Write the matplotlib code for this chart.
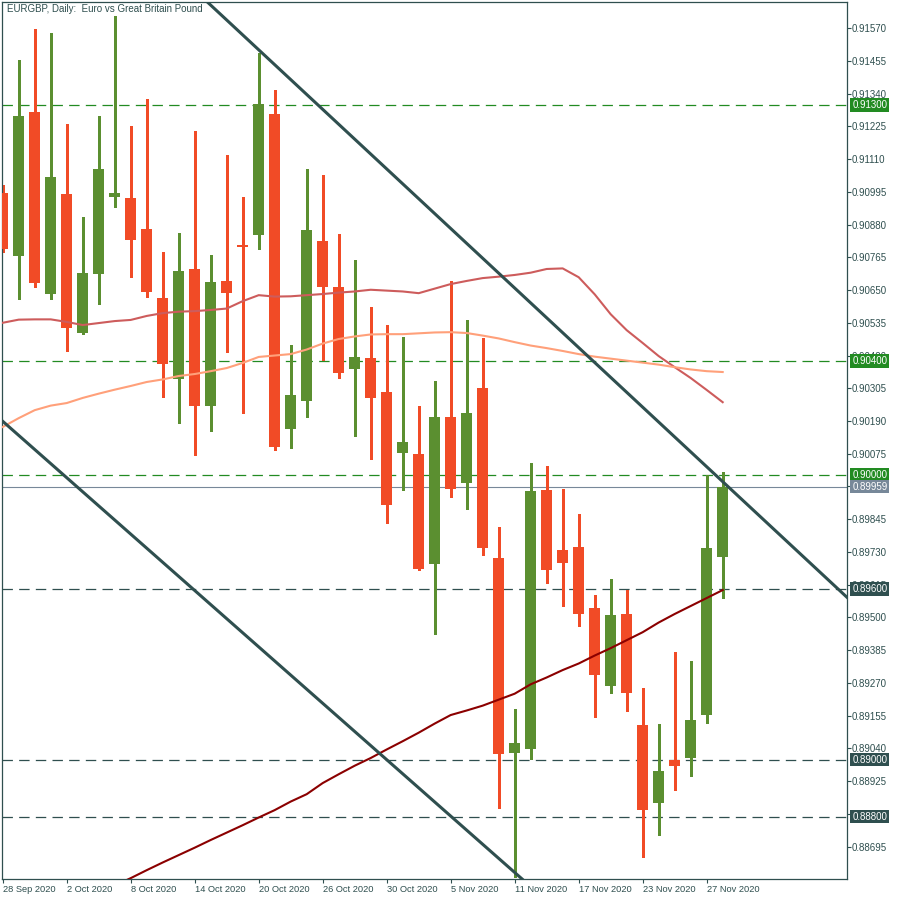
import numpy as np
import matplotlib
matplotlib.use('Agg')
import matplotlib.pyplot as plt
import matplotlib.transforms as mtransforms

# EURGBP daily candles, 28 Sep 2020 .. 30 Nov 2020
opens = [0.90992, 0.90769, 0.91275, 0.90637, 0.90987, 0.90500, 0.90706, 0.90978, 0.90973, 0.90864,
         0.90623, 0.90338, 0.90725, 0.90243, 0.90683, 0.90807, 0.90844, 0.91268, 0.90162, 0.90260,
         0.90822, 0.90661, 0.90372, 0.90411, 0.90292, 0.90077, 0.90074, 0.89687, 0.90204, 0.89972,
         0.90306, 0.89708, 0.89023, 0.89037, 0.89947, 0.89736, 0.89747, 0.89533, 0.89259, 0.89512,
         0.89122, 0.88848, 0.88999, 0.89006, 0.89157, 0.89712]
highs = [0.91019, 0.91458, 0.91567, 0.91553, 0.91233, 0.90906, 0.91261, 0.91613, 0.91226, 0.91321,
         0.90784, 0.90851, 0.91209, 0.90773, 0.91125, 0.90978, 0.91484, 0.91353, 0.90457, 0.91075,
         0.91054, 0.90847, 0.90755, 0.90590, 0.90527, 0.90485, 0.90242, 0.90330, 0.90682, 0.90545,
         0.90481, 0.89817, 0.89178, 0.90042, 0.90032, 0.89951, 0.89863, 0.89578, 0.89635, 0.89596,
         0.89252, 0.89125, 0.89378, 0.89347, 0.90000, 0.90011]
lows = [0.90784, 0.90619, 0.90662, 0.90619, 0.90437, 0.90496, 0.90602, 0.90943, 0.90697, 0.90624,
        0.90275, 0.90184, 0.90070, 0.90156, 0.90433, 0.90219, 0.90793, 0.90088, 0.90095, 0.90205,
        0.90404, 0.90341, 0.90137, 0.90056, 0.89831, 0.89947, 0.89668, 0.89441, 0.89923, 0.89881,
        0.89719, 0.88830, 0.88588, 0.89002, 0.89621, 0.89540, 0.89469, 0.89150, 0.89234, 0.89171,
        0.88658, 0.88735, 0.88893, 0.88942, 0.89129, 0.89568]
closes = [0.90795, 0.91261, 0.90676, 0.91047, 0.90516, 0.90710, 0.91075, 0.90992, 0.90827, 0.90644,
          0.90391, 0.90717, 0.90243, 0.90678, 0.90641, 0.90802, 0.91304, 0.90099, 0.90281, 0.90861,
          0.90662, 0.90359, 0.90415, 0.90271, 0.89895, 0.90116, 0.89670, 0.90204, 0.89951, 0.90218,
          0.89745, 0.89020, 0.89058, 0.89944, 0.89666, 0.89691, 0.89512, 0.89297, 0.89508, 0.89234,
          0.88823, 0.88960, 0.88978, 0.89139, 0.89744, 0.89959]

# moving averages
ma_fast = [0.90535, 0.90546, 0.90547, 0.90547, 0.90538, 0.90527, 0.90534, 0.90541, 0.90545, 0.90559,
           0.90569, 0.90574, 0.90576, 0.90580, 0.90585, 0.90611, 0.90632, 0.90627, 0.90628, 0.90632,
           0.90636, 0.90641, 0.90645, 0.90651, 0.90648, 0.90645, 0.90639, 0.90655, 0.90671, 0.90682,
           0.90692, 0.90697, 0.90703, 0.90711, 0.90724, 0.90726, 0.90695, 0.90635, 0.90565, 0.90509,
           0.90464, 0.90418, 0.90379, 0.90341, 0.90299, 0.90256]
ma_mid = [0.90169, 0.90200, 0.90228, 0.90244, 0.90253, 0.90271, 0.90286, 0.90300, 0.90313, 0.90327,
          0.90336, 0.90348, 0.90355, 0.90365, 0.90376, 0.90394, 0.90415, 0.90420, 0.90425, 0.90441,
          0.90462, 0.90478, 0.90487, 0.90494, 0.90495, 0.90495, 0.90498, 0.90501, 0.90502, 0.90499,
          0.90490, 0.90480, 0.90467, 0.90455, 0.90446, 0.90436, 0.90425, 0.90416, 0.90409, 0.90402,
          0.90395, 0.90388, 0.90379, 0.90371, 0.90365, 0.90362]
ma_slow = [np.nan] * 7 + [
           0.88558, 0.88584, 0.88612, 0.88639, 0.88665, 0.88691, 0.88718, 0.88744, 0.88770, 0.88797,
           0.88823, 0.88853, 0.88879, 0.88918, 0.88949, 0.88979, 0.89006, 0.89036, 0.89065, 0.89095,
           0.89127, 0.89157, 0.89173, 0.89190, 0.89211, 0.89232, 0.89265, 0.89289, 0.89315, 0.89338,
           0.89366, 0.89392, 0.89420, 0.89448, 0.89482, 0.89512, 0.89540, 0.89568, 0.89596]

tick_idx = [0, 4, 8, 12, 16, 20, 24, 28, 32, 36, 40, 44]
tick_labels = ['28 Sep 2020', '2 Oct 2020', '8 Oct 2020', '14 Oct 2020', '20 Oct 2020', '26 Oct 2020',
               '30 Oct 2020', '5 Nov 2020', '11 Nov 2020', '17 Nov 2020', '23 Nov 2020', '27 Nov 2020']
y_ticks = [0.88695, 0.88810, 0.88925, 0.89040, 0.89155, 0.89270, 0.89385, 0.89500, 0.89615, 0.89730,
           0.89845, 0.89960, 0.90075, 0.90190, 0.90305, 0.90420, 0.90535, 0.90650, 0.90765, 0.90880,
           0.90995, 0.91110, 0.91225, 0.91340, 0.91455, 0.91570]

# support / resistance levels
levels = [0.91300, 0.90400, 0.90000, 0.89600, 0.89000, 0.88800]
level_colors = ['#228B22', '#228B22', '#228B22', '#2F4F4F', '#2F4F4F', '#2F4F4F']
last_price = 0.89959

# trend channel anchor points (bar index, price)
upper_line = [(16, 0.91494), (45, 0.89977)]
lower_line = [(0, 0.90189), (30, 0.88703)]

UP = '#5B8F30'
DOWN = '#F14B26'
FG = '#2F4F4F'

plt.rcParams['font.family'] = ['Liberation Sans', 'DejaVu Sans']
plt.rcParams['lines.scale_dashes'] = False

fig = plt.figure(figsize=(9, 9), dpi=100)
ax = fig.add_axes([2 / 900, 21 / 900, 845 / 900, 877 / 900])

x = np.arange(len(opens))
o = np.array(opens)
c = np.array(closes)
up = c >= o
cols = np.where(up, UP, DOWN)

# candles
ax.vlines(x, lows, highs, colors=cols, lw=1.0, antialiased=False, zorder=2)
body = np.maximum(np.abs(c - o), 0.00004)
ax.bar(x, body, bottom=np.minimum(o, c), width=0.69, color=cols, zorder=3)

# levels
for lv, col in zip(levels, level_colors):
    ax.axhline(lv, color=col, lw=0.9, dashes=(7.5, 4.5), zorder=1)
ax.axhline(last_price, color='#778899', lw=0.8, zorder=1)

# moving averages
ax.plot(x, ma_fast, color='#CD5C5C', lw=1.5, zorder=4)
ax.plot(x, ma_mid, color='#FFA07A', lw=1.5, zorder=4)
ax.plot(x, ma_slow, color='#8B0000', lw=1.5, zorder=4)

# channel
ax.axline(upper_line[0], upper_line[1], color=FG, lw=2.2, zorder=5)
ax.axline(lower_line[0], lower_line[1], color=FG, lw=2.2, zorder=5)

ax.set_xlim(-0.044, 52.77)
ax.set_ylim(0.88581, 0.916619)

ax.yaxis.tick_right()
ax.set_yticks(y_ticks)
ax.set_yticklabels([f'{v:.5f}' for v in y_ticks])
ax.tick_params(axis='y', length=3, width=0.8, color=FG, labelcolor=FG, labelsize=7, pad=0.5)
ax.set_xticks(tick_idx)
ax.set_xticklabels(tick_labels)
ax.tick_params(axis='x', length=3, width=0.8, color=FG, labelcolor=FG, labelsize=6.7, pad=1.5)
for lbl in ax.get_xticklabels():
    lbl.set_ha('left')
for s in ax.spines.values():
    s.set_color(FG)
    s.set_linewidth(0.9)

# price tags on the right scale
trans = mtransforms.blended_transform_factory(ax.transAxes, ax.transData)
for lv, col in zip(levels + [last_price], level_colors + ['#778899']):
    ax.text(1.0062, lv, f'{lv:.5f}', transform=trans, ha='left', va='center', fontsize=7,
            color='white', clip_on=False, zorder=10,
            bbox=dict(boxstyle='square,pad=0.18', fc=col, ec='none'))

ax.text(0.006, 0.9915, 'EURGBP, Daily:  Euro vs Great Britain Pound', transform=ax.transAxes,
        ha='left', va='center', fontsize=7, color=FG)

fig.savefig('out.png', dpi=100, facecolor='white')
